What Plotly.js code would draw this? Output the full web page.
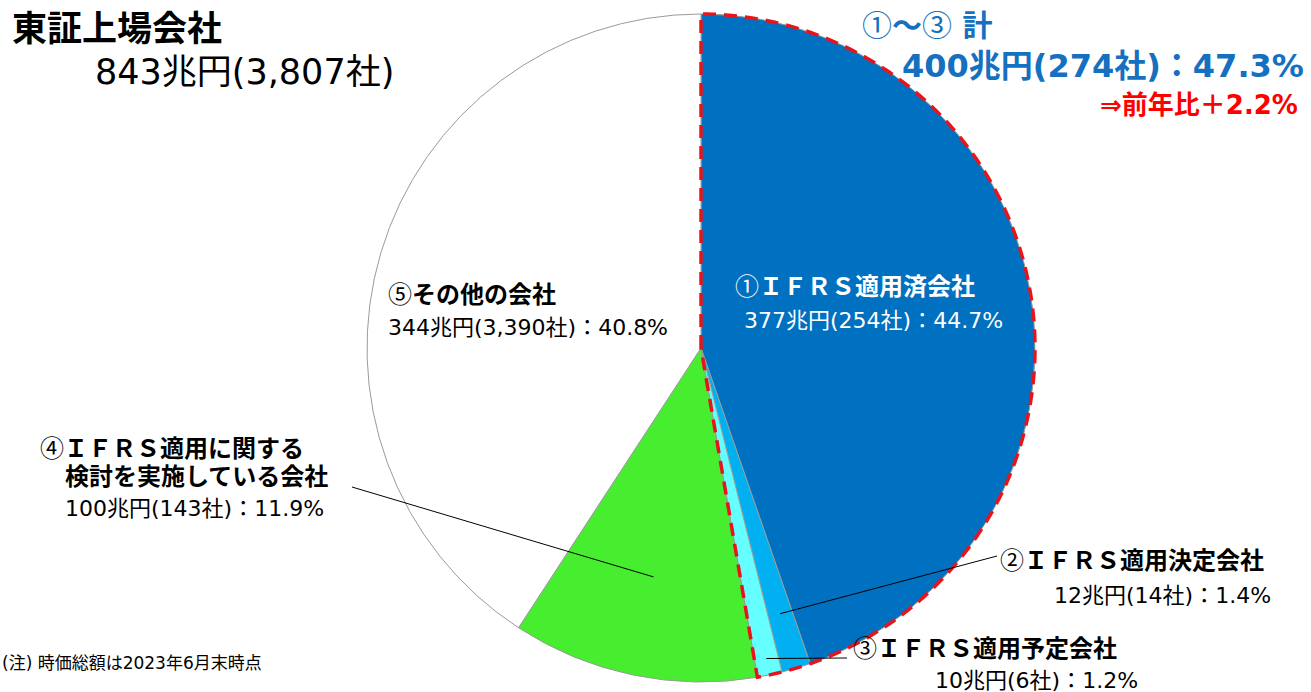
<!DOCTYPE html>
<html>
<head>
<meta charset="utf-8">
<script src="https://cdn.plot.ly/plotly-3.0.1.min.js"></script>
<style>html,body{margin:0;padding:0;background:#fff;}#chart{width:1311px;height:692px;}</style>
</head>
<body>
<div id="chart"></div>
<script>
// ---- data ----
const categoryMarks = ['①', '②', '③', '④', '⑤'];
const categoryNames = ['ＩＦＲＳ適用済会社', 'ＩＦＲＳ適用決定会社', 'ＩＦＲＳ適用予定会社', 'ＩＦＲＳ適用に関する検討を実施している会社', 'その他の会社'];
const marketCapTrillionYen = [377, 12, 10, 100, 344];
const companyCounts = [254, 14, 6, 143, 3390];
const sharePercent = [44.7, 1.4, 1.2, 11.9, 40.8];
const totalMarketCap = 843;
const totalCompanies = 3807;
const groupMarketCap = 400;      // ①〜③ 計
const groupCompanies = 274;
const groupShare = 47.3;
const groupYoYChange = 2.2;
const noteText = '(注) 時価総額は2023年6月末時点';

// ---- style / geometry ----
const W = 1311, H = 692;
const cx = 701, cy = 348, R = 334;
const sliceColors = ['#0070C0', '#00B0F0', '#66FFFF', '#47EE2F', '#FFFFFF'];
const FONT = 'DejaVu Sans, Noto Sans CJK JP, sans-serif';

const px = x => x / W;
const py = y => 1 - y / H;

const total = sharePercent.reduce((a, b) => a + b, 0);
const cum = [0];
sharePercent.forEach(v => cum.push(cum[cum.length - 1] + v));
const angOf = frac => frac / total * 2 * Math.PI; // clockwise from top
const pointAt = (ang, r) => [cx + r * Math.sin(ang), cy - r * Math.cos(ang)];
const midAng = i => angOf((cum[i] + cum[i + 1]) / 2);

const mark = m => `<span style="font-family:'Noto Sans CJK JP';font-weight:normal">${m}</span>`;
const detail = i => `${marketCapTrillionYen[i]}兆円(${companyCounts[i].toLocaleString('en-US')}社)：${sharePercent[i]}%`;

const trace = {
  type: 'pie',
  values: sharePercent,
  labels: categoryNames,
  sort: false,
  direction: 'clockwise',
  rotation: 0,
  textinfo: 'none',
  hoverinfo: 'label+percent',
  marker: { colors: sliceColors, line: { color: '#9a9a9a', width: 1 } },
  domain: { x: [px(cx - R), px(cx + R)], y: [py(cy + R), py(cy - R)] },
  showlegend: false
};

// red dashed outline around ①〜③
const endAng = angOf(cum[3]);
let path = `M ${px(cx)} ${py(cy)} L ${px(cx)} ${py(cy - R)}`;
const N = 160;
for (let k = 1; k <= N; k++) {
  const [x, y] = pointAt(endAng * k / N, R);
  path += ` L ${px(x)} ${py(y)}`;
}
path += ' Z';

const shapes = [{
  type: 'path', xref: 'paper', yref: 'paper', path: path,
  line: { color: '#E8141B', width: 3.5, dash: '13px,8px' }, fillcolor: 'rgba(0,0,0,0)'
}];

// leader lines
function leader(i, r, tx, ty) {
  const [x, y] = pointAt(midAng(i), r);
  shapes.push({ type: 'line', xref: 'paper', yref: 'paper', x0: px(x), y0: py(y), x1: px(tx), y1: py(ty), line: { color: '#000', width: 1 } });
}
leader(1, R * 0.83, 997, 556);
leader(2, R * 0.95, 847, 658);
leader(3, R * 0.70, 352, 487);

const ann = [];
function txt(t, x, y, size, color, bold, anchor) {
  ann.push({ text: bold ? `<b>${t}</b>` : t, x: px(x), y: py(y), xref: 'paper', yref: 'paper',
    xanchor: anchor || 'left', yanchor: 'middle', showarrow: false,
    font: { family: FONT, size: size, color: color } });
}
txt('東証上場会社', 10, 29, 35, '#000', true);
txt(`${totalMarketCap}兆円(${totalCompanies.toLocaleString('en-US')}社)`, 93, 72, 35, '#000', false);
txt(`${mark(categoryMarks[0])}～${mark(categoryMarks[2])} 計`, 860, 23, 30, '#1570C0', true);
txt(`${groupMarketCap}兆円(${groupCompanies}社)：${groupShare}%`, 1306, 66, 32, '#1570C0', true, 'right');
txt(`⇒前年比＋${groupYoYChange}%`, 1300, 105, 26, '#FF0000', true, 'right');

txt(mark(categoryMarks[0]) + categoryNames[0], 733, 285, 24, '#fff', true);
txt(detail(0), 742, 321, 22, '#fff', false);

txt(mark(categoryMarks[4]) + categoryNames[4], 386, 292, 24, '#000', true);
txt(detail(4), 386, 327, 22, '#000', false);

txt(mark(categoryMarks[3]) + categoryNames[3].slice(0, 10), 38, 446, 24, '#000', true);
txt(categoryNames[3].slice(10), 63, 477, 24, '#000', true);
txt(detail(3), 63, 508, 22, '#000', false);

txt(mark(categoryMarks[1]) + categoryNames[1], 998, 558, 24, '#000', true);
txt(detail(1), 1273, 595, 22, '#000', false, 'right');

txt(mark(categoryMarks[2]) + categoryNames[2], 851, 646, 24, '#000', true);
txt(detail(2), 1140, 680, 22, '#000', false, 'right');

txt(noteText, 0, 663, 17, '#000', false);

const layout = {
  width: W, height: H,
  margin: { l: 0, r: 0, t: 0, b: 0 },
  paper_bgcolor: '#fff',
  shapes: shapes,
  annotations: ann
};
Plotly.newPlot('chart', [trace], layout, { displayModeBar: false, staticPlot: true });
</script>
</body>
</html>
